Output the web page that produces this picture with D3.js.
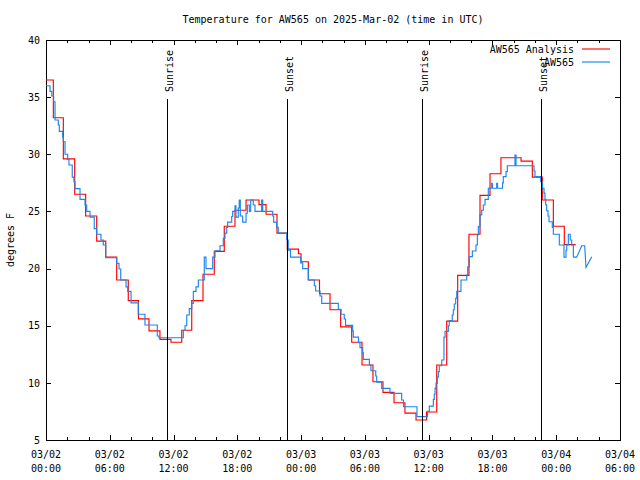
<!DOCTYPE html>
<html>
<head>
<meta charset="utf-8">
<script src="https://cdn.jsdelivr.net/npm/d3@7"></script>
<style>
  html, body { margin: 0; padding: 0; background: #fff; }
  svg { display: block; }
  text { font-family: "DejaVu Sans Mono", monospace; font-size: 10px; fill: #000; }
</style>
</head>
<body>
<svg id="chart" width="640" height="480"></svg>
<script>
// ---- Data (hours after 2025-03-02 00:00 UTC, degrees F) ----
const titleText = "Temperature for AW565 on 2025-Mar-02 (time in UTC)";
const yLabel = "degrees F";
const seriesNames = ["AW565 Analysis", "AW565"];
const yTicks = [5, 10, 15, 20, 25, 30, 35, 40];

const analysisHours = [0, 0.69, 1.63, 2.70, 3.73, 4.77, 5.62, 6.65, 7.74, 8.70, 9.69, 10.72, 11.76, 12.77, 13.71,
  14.77, 15.83, 16.77, 17.78, 18.82, 20.04, 20.70, 21.73, 22.70, 23.75, 23.99, 24.68, 25.73, 26.72, 27.72,
  28.76, 29.73, 30.76, 31.70, 32.74, 33.77, 34.81, 35.80, 36.76, 37.70, 38.73, 39.79, 40.83, 41.77, 42.80,
  44.69, 45.75, 46.69, 47.73, 48.76, 49.83];
const analysisTemps = [36.5, 33.2, 29.6, 26.5, 24.6, 22.4, 21.0, 19.0, 17.2, 15.6, 14.55, 13.8, 13.55, 14.6, 17.2,
  19.5, 21.5, 23.7, 25.1, 26.0, 25.6, 24.75, 23.1, 21.7, 21.3, 20.6, 19.0, 17.8, 16.4, 14.9,
  13.55, 11.56, 10.1, 9.17, 8.26, 7.35, 6.75, 7.45, 11.56, 15.4, 19.4, 23.0, 26.4, 28.3, 29.7,
  29.4, 28.0, 26.0, 23.7, 22.1, 22.1];

const obsHours = [0, 0.38, 0.54, 0.72, 0.85, 1.16, 1.25, 1.57, 1.63, 1.79, 2.04, 2.16, 2.47, 2.63, 2.73,
  3.20, 3.67, 3.83, 4.14, 4.54, 4.77, 5.17, 5.39, 5.62, 6.65, 6.87, 7.03, 7.53, 7.69, 8.00,
  8.68, 9.31, 10.47, 10.63, 12.92, 13.08, 13.24, 13.48, 13.71, 13.86, 14.11, 14.33, 14.89, 15.05, 15.68,
  15.90, 16.37, 16.68, 16.84, 17.00, 17.09, 17.47, 17.56, 17.78, 17.87, 18.09, 18.18, 18.28, 18.50, 18.82,
  18.94, 19.13, 19.26, 19.50, 19.66, 20.29, 20.39, 21.33, 21.42, 21.70, 21.85, 22.64, 22.79, 23.00, 23.96,
  24.15, 24.68, 25.24, 25.37, 25.78, 25.94, 27.50, 27.75, 28.06, 28.18, 28.85, 28.91, 29.40, 29.54, 29.79,
  29.85, 30.42, 30.57, 31.02, 31.11, 31.58, 32.36, 33.46, 33.63, 34.90, 35.89, 36.06, 36.44, 36.53, 36.60,
  36.69, 36.81, 36.91, 37.00, 37.23, 37.44, 37.54, 37.85, 37.94, 38.22, 38.32, 38.41, 38.54, 38.64, 39.04,
  39.58, 39.67, 39.82, 40.11, 40.45, 40.58, 40.67, 40.83, 40.99, 41.14, 41.30, 41.61, 41.93, 42.00, 42.40,
  42.48, 42.95, 43.02, 43.28, 43.40, 44.12, 44.22, 45.91, 46.00, 46.54, 46.71, 46.85, 46.94, 47.01, 47.10,
  47.23, 47.32, 47.63, 47.73, 48.29, 48.73, 48.92, 48.99, 49.14, 49.32, 49.46, 49.61];
const obsTemps = [36.0, 35.5, 35.1, 34.6, 33.0, 32.56, 32.0, 31.5, 31.1, 30.0, 29.56, 29.06, 28.0, 27.6, 27.0,
  26.06, 25.56, 25.0, 24.5, 23.5, 23.0, 22.5, 22.06, 20.96, 20.46, 19.96, 19.0, 18.4, 18.0, 17.0,
  16.0, 15.06, 14.1, 13.95, 14.6, 15.0, 15.94, 16.5, 16.96, 18.0, 18.4, 19.0, 21.0, 20.0, 21.0,
  21.56, 22.0, 22.65, 23.1, 23.6, 24.06, 24.56, 25.0, 25.5, 24.5, 25.3, 26.0, 24.6, 24.06, 24.84,
  25.56, 25.0, 26.0, 25.56, 25.0, 26.0, 25.0, 24.6, 24.06, 23.6, 23.1, 22.5, 21.6, 21.0, 20.5,
  20.0, 19.0, 18.5, 18.04, 17.6, 16.96, 16.43, 16.0, 15.59, 15.03, 14.54, 14.0, 13.52, 13.08, 12.64,
  12.06, 11.56, 11.06, 10.6, 10.05, 9.52, 9.08, 8.5, 7.91, 7.04, 7.5, 7.97, 8.56, 9.0, 9.52,
  9.96, 10.5, 10.98, 11.5, 12.0, 14.0, 14.5, 15.0, 15.44, 15.94, 16.4, 16.9, 17.4, 18.0, 19.0,
  19.44, 20.16, 21.04, 21.54, 22.06, 22.94, 23.67, 24.7, 25.1, 25.56, 26.06, 27.03, 27.46, 27.03, 27.46,
  27.03, 27.5, 28.04, 28.48, 29.0, 29.93, 29.0, 28.54, 28.04, 27.6, 27.03, 26.6, 26.06, 25.56, 25.06,
  24.6, 24.1, 23.6, 23.0, 22.06, 21.0, 21.6, 22.06, 23.0, 22.5, 22.06, 21.0];
// sparse (hourly) tail of the observations, joined by straight lines
const obsTailHours = [49.61, 49.93, 50.40, 50.68, 50.80, 51.34];
const obsTailTemps = [21.0, 21.0, 22.0, 22.0, 20.1, 21.04];

const sunEvents = ["Sunrise", "Sunset", "Sunrise", "Sunset"];
const sunHours = [11.38, 22.67, 35.37, 46.57];

// ---- Layout ----
const W = 640, H = 480;
const m = { left: 46, right: 20, top: 40, bottom: 40 };
const t0 = Date.UTC(2025, 2, 2, 0, 0);
const toDate = h => new Date(t0 + h * 3600e3);

const svg = d3.select("#chart");
const x = d3.scaleUtc().domain([toDate(0), toDate(54)]).range([m.left, W - m.right]);
const y = d3.scaleLinear().domain([5, 40]).range([H - m.bottom, m.top]);

const colors = ["#ff0000", "#1a86f0"];
const lw = 1.15;

// Title
svg.append("text").attr("x", (m.left + W - m.right) / 2).attr("y", 23)
  .attr("text-anchor", "middle").text(titleText);

// Y label
svg.append("text").attr("transform", `translate(14,240) rotate(-90)`)
  .attr("text-anchor", "middle").text(yLabel);

// Axes
const minorTicks = d3.utcHour.every(2).range(toDate(0), toDate(54.01));
const majorTicks = d3.utcHour.every(6).range(toDate(0), toDate(54.01));

function styleAxis(g) {
  g.select(".domain").remove();
  g.selectAll(".tick line").attr("stroke", "#000").attr("shape-rendering", "crispEdges");
  g.selectAll("text").style("font-family", "'DejaVu Sans Mono', monospace").style("font-size", "10px");
}

// left & right y ticks (inward)
svg.append("g").attr("transform", `translate(${m.left},0)`)
  .call(d3.axisLeft(y).tickValues(yTicks).tickSize(-5).tickPadding(6).tickFormat(d3.format("d")))
  .call(styleAxis);
svg.append("g").attr("transform", `translate(${W - m.right},0)`)
  .call(d3.axisRight(y).tickValues(yTicks).tickSize(-5).tickFormat(""))
  .call(styleAxis);

// bottom & top x ticks (inward), minor + major
[[H - m.bottom, d3.axisBottom], [m.top, d3.axisTop]].forEach(([ty, fn]) => {
  svg.append("g").attr("transform", `translate(0,${ty})`)
    .call(fn(x).tickValues(minorTicks).tickSize(-3).tickFormat(""))
    .call(styleAxis);
  svg.append("g").attr("transform", `translate(0,${ty})`)
    .call(fn(x).tickValues(majorTicks).tickSize(-5).tickFormat(""))
    .call(styleAxis);
});

// x tick labels, two lines
const fmtDay = d3.utcFormat("%m/%d"), fmtTime = d3.utcFormat("%H:%M");
const lab = svg.append("g").selectAll("g").data(majorTicks).join("g")
  .attr("transform", d => `translate(${x(d)},0)`);
lab.append("text").attr("y", 458).attr("text-anchor", "middle").text(d => fmtDay(d));
lab.append("text").attr("y", 472).attr("text-anchor", "middle").text(d => fmtTime(d));

// Border
svg.append("rect").attr("x", m.left + 0.5).attr("y", m.top + 0.5)
  .attr("width", W - m.left - m.right).attr("height", H - m.top - m.bottom)
  .attr("fill", "none").attr("stroke", "#000").attr("shape-rendering", "crispEdges");

// Series
const stepLine = d3.line().x(d => x(toDate(d[0]))).y(d => y(d[1])).curve(d3.curveStepAfter);
const linLine = d3.line().x(d => x(toDate(d[0]))).y(d => y(d[1]));

const redData = analysisHours.map((h, i) => [h, analysisTemps[i]]);
const blueData = obsHours.map((h, i) => [h, obsTemps[i]]);
const blueTail = obsTailHours.map((h, i) => [h, obsTailTemps[i]]);

svg.append("path").attr("d", stepLine(redData)).attr("fill", "none")
  .attr("stroke", colors[0]).attr("stroke-width", lw);
svg.append("path").attr("d", stepLine(blueData)).attr("fill", "none")
  .attr("stroke", colors[1]).attr("stroke-width", lw);
svg.append("path").attr("d", linLine(blueTail)).attr("fill", "none")
  .attr("stroke", colors[1]).attr("stroke-width", lw);

// Sunrise / sunset markers
const sg = svg.append("g").selectAll("g").data(sunHours).join("g")
  .attr("transform", h => `translate(${Math.round(x(toDate(h))) + 0.5},0)`);
sg.append("line").attr("y1", 99).attr("y2", H - m.bottom).attr("stroke", "#000")
  .attr("stroke-width", 1).attr("shape-rendering", "crispEdges");
sg.append("text").attr("transform", "translate(5.5,92) rotate(-90)")
  .text((h, i) => sunEvents[i]);

// Legend
const leg = svg.append("g").selectAll("g").data(seriesNames).join("g")
  .attr("transform", (d, i) => `translate(0,${49 + i * 13})`);
leg.append("text").attr("x", 574).attr("y", 4).attr("text-anchor", "end").text(d => d);
leg.append("line").attr("x1", 582).attr("x2", 610).attr("stroke", (d, i) => colors[i])
  .attr("stroke-width", lw);
</script>
</body>
</html>
